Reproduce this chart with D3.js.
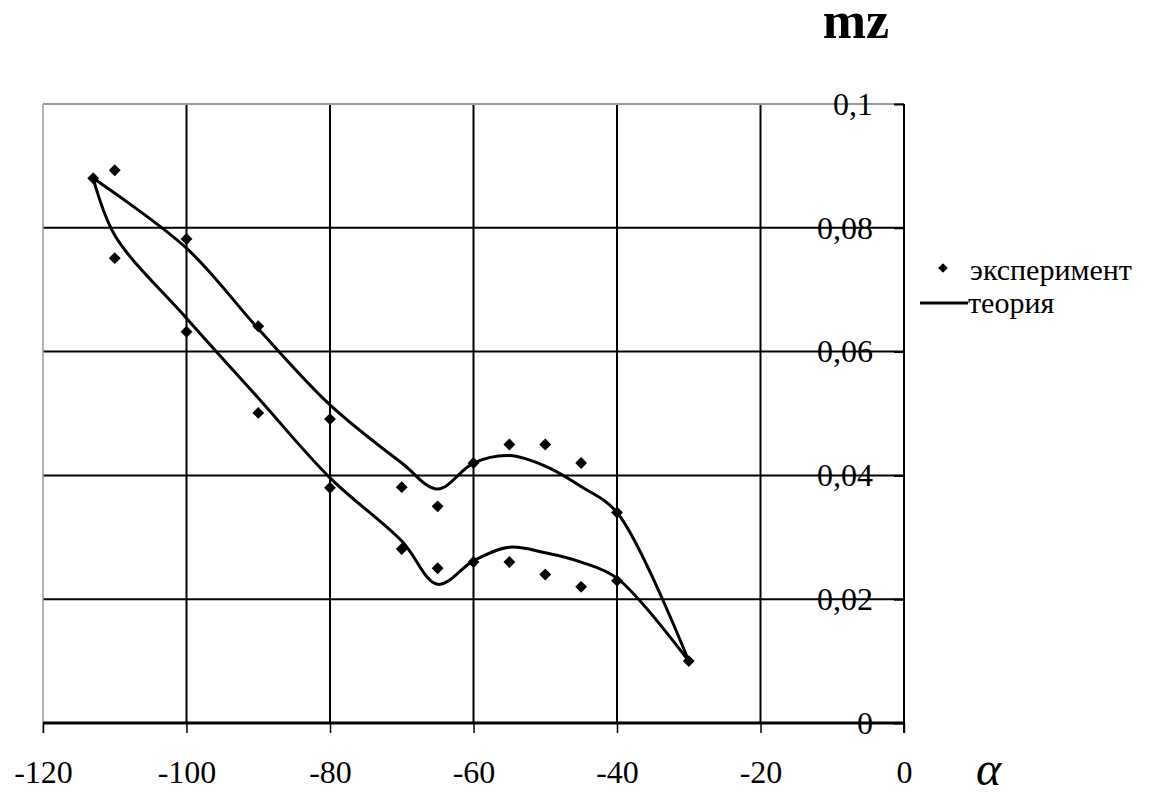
<!DOCTYPE html>
<html>
<head>
<meta charset="utf-8">
<script src="https://cdn.jsdelivr.net/npm/d3@7"></script>
<style>
  body { margin: 0; background: #fff; }
  svg text { font-family: 'Liberation Serif', 'DejaVu Serif', serif !important; fill: #000; }
</style>
</head>
<body>
<script>
// experiment points (alpha, mz)
var expAlpha = [-113, -110, -110, -100, -100, -90, -90, -80, -80, -70, -70, -65, -65, -60, -60, -55, -55, -50, -50, -45, -45, -40, -40, -30];
var expMz    = [0.088, 0.0893, 0.0751, 0.0782, 0.0632, 0.0641, 0.0501, 0.0491, 0.038, 0.0381, 0.0281, 0.035, 0.025, 0.042, 0.026, 0.045, 0.026, 0.045, 0.024, 0.042, 0.022, 0.034, 0.023, 0.010];

// theory, upper branch
var upAlpha = [-113, -100, -90, -80, -70, -65, -60, -55, -50, -45, -40, -30];
var upMz    = [0.088, 0.0767, 0.0637, 0.0514, 0.042, 0.0378, 0.042, 0.0432, 0.0415, 0.0382, 0.034, 0.010];

// theory, lower branch
var loAlpha = [-113, -110, -100, -90, -80, -70, -65, -60, -55, -50, -45, -40, -30];
var loMz    = [0.088, 0.0788, 0.0654, 0.0525, 0.0396, 0.0294, 0.0224, 0.0262, 0.0284, 0.0275, 0.026, 0.0234, 0.010];

var xTicks = [-120, -100, -80, -60, -40, -20, 0];
var yTicks = [0, 0.02, 0.04, 0.06, 0.08, 0.1];
var yLabels = ['0', '0,02', '0,04', '0,06', '0,08', '0,1'];

var legendNames = ['эксперимент', 'теория'];

function draw() {

var pLeft = 43, pRight = 904, pTop = 104, pBottom = 723;

var svg = d3.select('body').append('svg').attr('width', 1150).attr('height', 794);

var x = d3.scaleLinear().domain([-120, 0]).range([pLeft, pRight]);
var y = d3.scaleLinear().domain([0, 0.1]).range([pBottom, pTop]);

// grid
var grid = svg.append('g');
grid.selectAll('.vg').data(xTicks.slice(1, -1)).enter().append('line')
  .attr('x1', function(d) { return x(d); }).attr('x2', function(d) { return x(d); })
  .attr('y1', pTop).attr('y2', pBottom)
  .attr('stroke', '#000').attr('stroke-width', 2);
grid.selectAll('.hg').data(yTicks.slice(1, -1)).enter().append('line')
  .attr('x1', pLeft).attr('x2', pRight)
  .attr('y1', function(d) { return y(d); }).attr('y2', function(d) { return y(d); })
  .attr('stroke', '#000').attr('stroke-width', 2);

// gray border top + left
grid.append('line').attr('x1', pLeft).attr('x2', pRight).attr('y1', pTop).attr('y2', pTop)
  .attr('stroke', '#999').attr('stroke-width', 2);
grid.append('line').attr('x1', pLeft).attr('x2', pLeft).attr('y1', pTop).attr('y2', pBottom + 10)
  .attr('stroke', '#999').attr('stroke-width', 1.5);

// x axis
var xAxis = svg.append('g').attr('transform', 'translate(0,' + pBottom + ')')
  .call(d3.axisBottom(x).tickValues(xTicks).tickSize(10).tickPadding(27));
xAxis.attr('font-family', null);
xAxis.select('.domain').attr('stroke-width', 3).attr('d', 'M' + pLeft + ',0H' + pRight);
xAxis.selectAll('.tick line').attr('stroke-width', 1.5);
xAxis.selectAll('.tick text').attr('font-size', 32)
  .text(function(d) { return d < 0 ? '-' + Math.abs(d) : d; });

// y axis on the right, ticks pointing in
var yAxis = svg.append('g').attr('transform', 'translate(' + pRight + ',0)')
  .call(d3.axisLeft(y).tickValues(yTicks).tickSize(10).tickPadding(21)
    .tickFormat(function(d, i) { return yLabels[i]; }));
yAxis.attr('font-family', null);
yAxis.select('.domain').attr('stroke-width', 2).attr('d', 'M0,' + pTop + 'V' + (pBottom + 10));
yAxis.selectAll('.tick line').attr('stroke-width', 2);
yAxis.selectAll('.tick text').attr('font-size', 32);

// theory curves
var line = d3.line().curve(d3.curveCatmullRom.alpha(0.5))
  .x(function(d) { return x(d[0]); })
  .y(function(d) { return y(d[1]); });

var curves = [
  upAlpha.map(function(a, i) { return [a, upMz[i]]; }),
  loAlpha.map(function(a, i) { return [a, loMz[i]]; })
];
svg.selectAll('.theory').data(curves).enter().append('path')
  .attr('class', 'theory')
  .attr('d', line)
  .attr('fill', 'none').attr('stroke', '#000').attr('stroke-width', 3);

// experiment diamonds
var diamond = d3.symbol().type(d3.symbolDiamond2).size(90);
svg.selectAll('.exp').data(expAlpha).enter().append('path')
  .attr('class', 'exp')
  .attr('transform', function(d, i) { return 'translate(' + x(d) + ',' + y(expMz[i]) + ')'; })
  .attr('d', diamond).attr('fill', '#000');

// titles
svg.append('text').attr('x', 856).attr('y', 38).attr('text-anchor', 'middle')
  .attr('font-size', 52).attr('font-weight', 'bold').text('mz');
svg.append('text').attr('x', 976).attr('y', 785)
  .attr('font-size', 48).attr('font-style', 'italic').text('α');

// legend
var lg = svg.append('g');
lg.append('path').attr('transform', 'translate(943,268)')
  .attr('d', d3.symbol().type(d3.symbolDiamond2).size(60)).attr('fill', '#000');
lg.append('text').attr('x', 970).attr('y', 280).attr('font-size', 30).text(legendNames[0]);
lg.append('line').attr('x1', 920).attr('x2', 968).attr('y1', 303).attr('y2', 303)
  .attr('stroke', '#000').attr('stroke-width', 3);
lg.append('text').attr('x', 968).attr('y', 313).attr('font-size', 30).text(legendNames[1]);

}

draw();
</script>
</body>
</html>
